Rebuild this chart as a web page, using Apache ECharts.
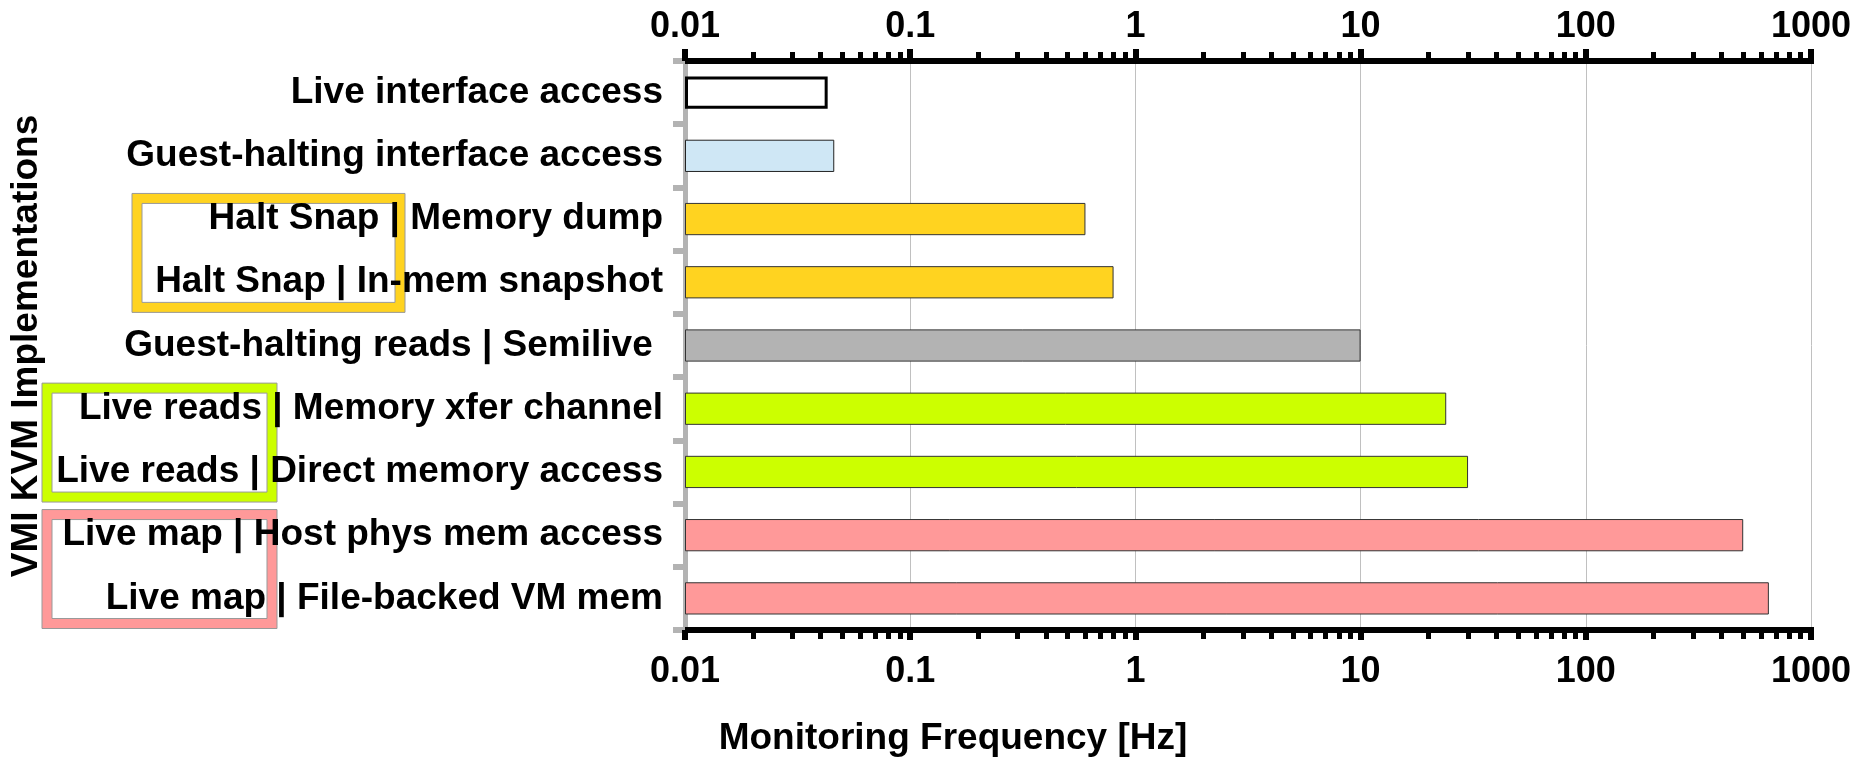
<!DOCTYPE html>
<html>
<head>
<meta charset="utf-8">
<script src="https://cdn.jsdelivr.net/npm/echarts@6/dist/echarts.min.js"></script>
<style>
html,body{margin:0;padding:0;background:#ffffff;}
#chart{width:1867px;height:758px;}
</style>
</head>
<body>
<div id="chart"></div>
<script>
// ---- data ----
const categories = [
  'Live interface access',
  'Guest-halting interface access',
  'Halt Snap | Memory dump',
  'Halt Snap | In-mem snapshot',
  'Guest-halting reads | Semilive ',
  'Live reads | Memory xfer channel',
  'Live reads | Direct memory access',
  'Live map | Host phys mem access',
  'Live map | File-backed VM mem'
];
const values = [0.043, 0.046, 0.6, 0.8, 10, 24, 30, 500, 650];
const barColors = ['#ffffff', '#cfe7f5', '#ffd320', '#ffd320', '#b3b3b3', '#ccff00', '#ccff00', '#ff9999', '#ff9999'];
const barBorderColors = ['#000000', '#222222', '#333333', '#333333', '#333333', '#333333', '#333333', '#333333', '#333333'];
const barBorderWidths = [3, 1, 1, 1, 1, 1, 1, 1, 1];
const majorTickValues = [0.01, 0.1, 1, 10, 100, 1000];
const minorMultipliers = [2, 3, 4, 5, 6, 7, 8, 9];
const xTitle = 'Monitoring Frequency [Hz]';
const yTitle = 'VMI KVM Implementations';
// label-group frames: first/last category index and colour
const groupFrames = [
  {first: 2, last: 3, color: '#ffd320', left: 132, right: 405},
  {first: 5, last: 6, color: '#ccff00', left: 42, right: 277},
  {first: 7, last: 8, color: '#ff9999', left: 42, right: 277}
];

const minorTickValues = [];
majorTickValues.slice(0, -1).forEach(d => minorMultipliers.forEach(m => minorTickValues.push(+(d * m).toPrecision(3))));

const FONT = 'Liberation Sans';
const chart = echarts.init(document.getElementById('chart'), null, {renderer: 'canvas'});

function logAxis(pos, kind) {
  const major = kind === 'major';
  const top = pos === 'top';
  return {
    type: 'log',
    logBase: 10,
    position: pos,
    min: 0.01,
    max: 1000,
    startValue: 0.01,
    gridIndex: 0,
    axisLine: {show: major, onZero: false, lineStyle: {color: '#000', width: 6, cap: 'square'}},
    axisTick: major
      ? {show: true, length: top ? 12 : 10, lineStyle: {color: '#000', width: 6}}
      : {show: true, length: 9, customValues: minorTickValues, lineStyle: {color: '#000', width: 5}},
    axisLabel: major
      ? {show: true, margin: top ? 16 : 24, fontFamily: FONT, fontWeight: 'bold', fontSize: 36, color: '#000',
         formatter: v => String(+(+v).toPrecision(3))}
      : {show: false},
    splitLine: {show: major && pos === 'bottom', lineStyle: {color: '#c0c0c0', width: 1}},
    minorTick: {show: false},
    minorSplitLine: {show: false}
  };
}

const option = {
  backgroundColor: '#ffffff',
  animation: false,
  grid: {left: 685, right: 56, top: 61, bottom: 128, containLabel: false},
  xAxis: [
    logAxis('bottom', 'major'),
    logAxis('bottom', 'minor'),
    logAxis('top', 'major'),
    logAxis('top', 'minor')
  ],
  yAxis: {
    type: 'category',
    data: categories,
    inverse: true,
    axisLine: {show: true, lineStyle: {color: '#b3b3b3', width: 5}},
    axisTick: {show: true, length: 12, lineStyle: {color: '#b3b3b3', width: 6}},
    axisLabel: {margin: 22, fontFamily: FONT, fontWeight: 'bold', fontSize: 37, color: '#000', padding: [5, 0, 0, 0]},
    splitLine: {show: false}
  },
  series: [{
    type: 'bar',
    xAxisIndex: 0,
    yAxisIndex: 0,
    barWidth: '51%',
    data: values.map((v, i) => ({
      value: v,
      itemStyle: {color: barColors[i], borderColor: barBorderColors[i], borderWidth: barBorderWidths[i]}
    }))
  }]
};
chart.setOption(option);

// annotation frames and titles
const graphics = [];
const c0 = chart.convertToPixel({yAxisIndex: 0}, categories[0]);
const c1 = chart.convertToPixel({yAxisIndex: 0}, categories[1]);
const band = c1 - c0;
groupFrames.forEach(g => {
  const top = chart.convertToPixel({yAxisIndex: 0}, categories[g.first]) - band / 2 + 6;
  const bottom = chart.convertToPixel({yAxisIndex: 0}, categories[g.last]) + band / 2 - 1.5;
  graphics.push({
    type: 'rect', z: -10, silent: true,
    shape: {x: g.left, y: top, width: g.right - g.left, height: bottom - top},
    style: {fill: g.color, stroke: '#999999', lineWidth: 1}
  });
  graphics.push({
    type: 'rect', z: -9, silent: true,
    shape: {x: g.left + 10, y: top + 10, width: g.right - g.left - 20, height: bottom - top - 20},
    style: {fill: '#ffffff', stroke: '#999999', lineWidth: 1}
  });
});
graphics.push({
  type: 'text', x: 953, y: 739, silent: true,
  style: {text: xTitle, fill: '#000', font: 'bold 37px "Liberation Sans"', textAlign: 'center', textVerticalAlign: 'middle'}
});
graphics.push({
  type: 'text', x: 27, y: 346, rotation: Math.PI / 2, silent: true,
  style: {text: yTitle, fill: '#000', font: 'bold 37px "Liberation Sans"', textAlign: 'center', textVerticalAlign: 'middle'}
});
chart.setOption({graphic: {elements: graphics}});
</script>
</body>
</html>
